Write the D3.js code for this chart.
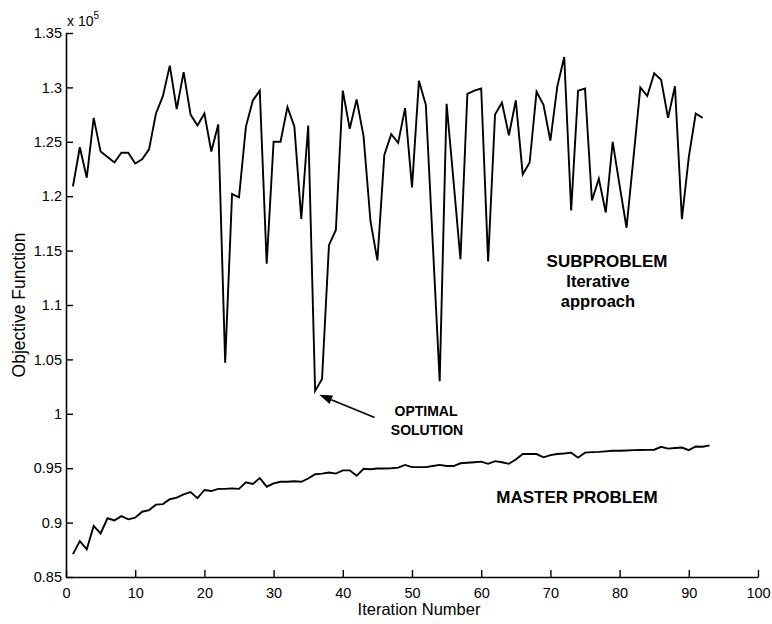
<!DOCTYPE html>
<html>
<head>
<meta charset="utf-8">
<script src="https://cdn.jsdelivr.net/npm/d3@7"></script>
<style>
  html, body { margin: 0; padding: 0; background: #fff; }
  svg { display: block; }
  text { font-family: "Liberation Sans", Arial, Helvetica, sans-serif; fill: #000; }
</style>
</head>
<body>
<svg id="chart" width="772" height="624"></svg>
<script>
// Objective function values (x 10^5) per iteration
const subproblemIter = d3.range(1, 93);
const subproblemValues = [
  1.209, 1.245, 1.217, 1.272, 1.241, 1.236, 1.231, 1.240, 1.240, 1.230,
  1.234, 1.243, 1.276, 1.292, 1.320, 1.280, 1.314, 1.275, 1.265, 1.276,
  1.241, 1.266, 1.047, 1.202, 1.199, 1.264, 1.288, 1.297, 1.138, 1.250,
  1.250, 1.282, 1.264, 1.179, 1.265, 1.021, 1.032, 1.155, 1.169, 1.297,
  1.262, 1.289, 1.255, 1.177, 1.141, 1.238, 1.257, 1.249, 1.281, 1.208,
  1.306, 1.284, 1.157, 1.030, 1.285, 1.214, 1.142, 1.294, 1.297, 1.299,
  1.140, 1.275, 1.286, 1.256, 1.288, 1.220, 1.231, 1.296, 1.284, 1.251,
  1.301, 1.328, 1.187, 1.297, 1.299, 1.196, 1.216, 1.185, 1.250, 1.210,
  1.171, 1.235, 1.300, 1.292, 1.313, 1.307, 1.272, 1.301, 1.179, 1.236,
  1.276, 1.272
];

const masterIter = d3.range(1, 94);
const masterValues = [
  0.871, 0.883, 0.8755, 0.897, 0.890, 0.904, 0.902, 0.906, 0.903, 0.9045,
  0.910, 0.9115, 0.9165, 0.917, 0.9215, 0.923, 0.926, 0.928, 0.9225, 0.930,
  0.929, 0.931, 0.931, 0.9315, 0.931, 0.937, 0.9355, 0.941, 0.933, 0.936,
  0.9375, 0.9375, 0.938, 0.9375, 0.9405, 0.9445, 0.945, 0.946, 0.945, 0.948,
  0.948, 0.943, 0.9495, 0.949, 0.9497, 0.9497, 0.950, 0.9505, 0.953, 0.951,
  0.951, 0.951, 0.952, 0.953, 0.952, 0.952, 0.9545, 0.955, 0.9555, 0.956,
  0.954, 0.9565, 0.9555, 0.954, 0.958, 0.963, 0.963, 0.963, 0.960, 0.962,
  0.963, 0.9635, 0.9643, 0.9597, 0.9643, 0.9648, 0.965, 0.9655, 0.966, 0.966,
  0.9663, 0.9666, 0.9667, 0.9668, 0.967, 0.9697, 0.968, 0.9685, 0.969, 0.9666,
  0.970, 0.9697, 0.971
];

const xTicks = [0, 10, 20, 30, 40, 50, 60, 70, 80, 90, 100];
const yTicks = [0.85, 0.9, 0.95, 1, 1.05, 1.1, 1.15, 1.2, 1.25, 1.3, 1.35];

// Annotation arrow (data units): tail and tip
const arrowTail = [44.6, 0.9965];
const arrowTip = [36.6, 1.0175];

const svg = d3.select("#chart");
const margin = { left: 66, top: 33, right: 14, bottom: 47 };
const W = 772, H = 624;

const x = d3.scaleLinear().domain([0, 100]).range([margin.left, W - margin.right]);
const y = d3.scaleLinear().domain([0.85, 1.35]).range([H - margin.bottom, margin.top]);

// Axes with inward ticks
const xAxis = d3.axisBottom(x).tickValues(xTicks).tickSizeInner(-7).tickSizeOuter(0).tickPadding(11);
const yAxis = d3.axisLeft(y).tickValues(yTicks).tickSizeInner(-7).tickSizeOuter(0).tickPadding(4)
  .tickFormat(d => String(+d.toFixed(2)));

const gx = svg.append("g").attr("transform", `translate(0,${y(0.85)})`).call(xAxis);
const gy = svg.append("g").attr("transform", `translate(${x(0)},0)`).call(yAxis);

[gx, gy].forEach(g => {
  g.select(".domain").attr("stroke", "#000").attr("stroke-width", 1.6);
  g.selectAll(".tick line").attr("stroke", "#000").attr("stroke-width", 1.4);
  g.selectAll(".tick text").attr("font-size", 14.5).attr("fill", "#000")
    .style("font-family", '"Liberation Sans", Arial, sans-serif');
});
gx.selectAll(".tick text").attr("dy", "0.71em");

// Exponent label
const expo = svg.append("text").attr("x", x(0) + 1).attr("y", 26).attr("font-size", 14);
expo.append("tspan").text("x 10");
expo.append("tspan").attr("dy", -7).attr("font-size", 10).text("5");

// Series lines
const line = d3.line().x(d => x(d[0])).y(d => y(d[1]));
const subData = subproblemIter.map((it, i) => [it, subproblemValues[i]]);
const masterData = masterIter.map((it, i) => [it, masterValues[i]]);

svg.append("path").datum(subData).attr("d", line)
  .attr("fill", "none").attr("stroke", "#000").attr("stroke-width", 1.9).attr("stroke-linejoin", "miter");
svg.append("path").datum(masterData).attr("d", line)
  .attr("fill", "none").attr("stroke", "#000").attr("stroke-width", 1.9);

// Axis titles
svg.append("text").attr("x", 419).attr("y", 615).attr("text-anchor", "middle")
  .attr("font-size", 16.5).text("Iteration Number");
svg.append("text").attr("transform", `translate(25,${(y(0.85) + y(1.35)) / 2}) rotate(-90)`)
  .attr("text-anchor", "middle").attr("font-size", 17.5).text("Objective Function");

// Labels
function bold(txt, px, py, size, anchor) {
  svg.append("text").attr("x", px).attr("y", py).attr("font-size", size)
    .attr("font-weight", "bold").attr("text-anchor", anchor || "middle").text(txt);
}
bold("SUBPROBLEM", 607, 267, 17);
bold("Iterative", 598, 287, 16.5);
bold("approach", 598, 307, 16.5);
bold("MASTER PROBLEM", 577, 503, 17);
bold("OPTIMAL", 426, 416, 14);
bold("SOLUTION", 427, 435, 14);

// Arrow pointing to the optimal solution
const tx = x(arrowTail[0]), ty = y(arrowTail[1]);
const hx = x(arrowTip[0]), hy = y(arrowTip[1]);
const ang = Math.atan2(hy - ty, hx - tx);
const headLen = 13, headW = 4.5;
const bx = hx - headLen * Math.cos(ang), by = hy - headLen * Math.sin(ang);
svg.append("line").attr("x1", tx).attr("y1", ty).attr("x2", bx).attr("y2", by)
  .attr("stroke", "#000").attr("stroke-width", 1.6);
svg.append("path")
  .attr("d", `M${hx},${hy} L${bx + headW * Math.sin(ang)},${by - headW * Math.cos(ang)} L${bx - headW * Math.sin(ang)},${by + headW * Math.cos(ang)} Z`)
  .attr("fill", "#000");
</script>
</body>
</html>
